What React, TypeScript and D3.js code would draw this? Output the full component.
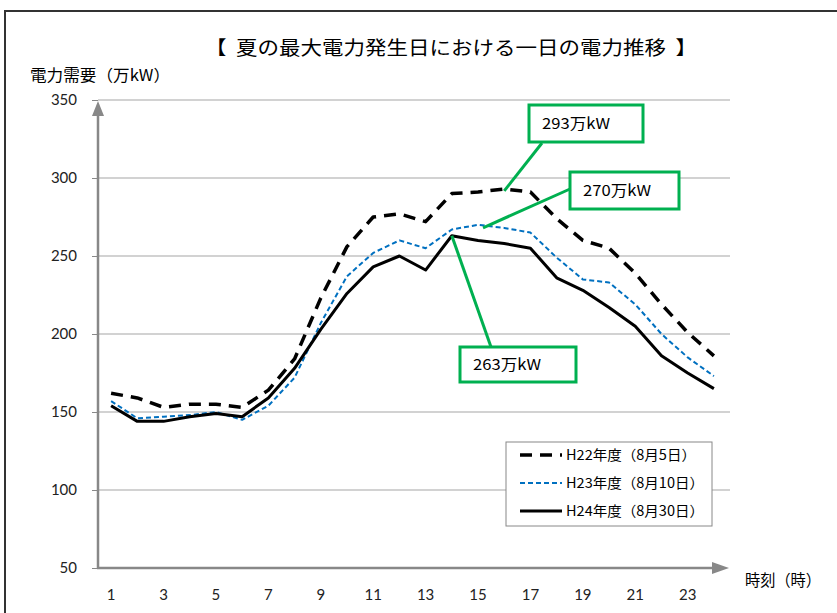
import React, { useEffect, useRef } from 'react';
import * as d3 from 'd3';

// hours 1..24
const hours = d3.range(1, 25);
const yTicks = [50, 100, 150, 200, 250, 300, 350];
const xTickLabels = [1, 3, 5, 7, 9, 11, 13, 15, 17, 19, 21, 23];

const h22 = [162, 159, 153, 155, 155, 153, 164, 184, 223, 256, 275, 277, 272, 290, 291, 293, 291, 274, 260, 255, 239, 219, 201, 186];
const h23 = [157, 146, 147, 148, 150, 145, 154, 172, 207, 237, 252, 260, 255, 267, 270, 268, 265, 249, 235, 233, 219, 200, 185, 173];
const h24 = [154, 144, 144, 147, 149, 147, 159, 178, 203, 226, 243, 250, 241, 263, 260, 258, 255, 236, 228, 217, 205, 186, 175, 165];

const seriesNames = ['H22年度（8月5日）', 'H23年度（8月10日）', 'H24年度（8月30日）'];

const FONT = "'Noto Sans CJK JP', 'Noto Sans', sans-serif";
const NUM_FONT = "Lato, 'Open Sans', sans-serif";
const GREEN = '#00B050';

const App: React.FC = () => {
  const svgRef = useRef<SVGSVGElement>(null);

  useEffect(() => {
    if (!svgRef.current) return;
    const svg = d3.select(svgRef.current);
    svg.selectAll('*').remove();

    const width = 837;
    const height = 613;
    const plot = { left: 98, right: 727, top: 100, bottom: 568 };

    const x = d3.scaleBand<number>().domain(hours).range([plot.left, plot.right]);
    const xc = (h: number) => (x(h) ?? 0) + x.bandwidth() / 2;
    const y = d3.scaleLinear().domain([50, 350]).range([plot.bottom, plot.top]);

    svg.attr('width', width).attr('height', height);

    // outer frame
    svg.append('rect')
      .attr('x', 5).attr('y', 11).attr('width', 900).attr('height', 700)
      .attr('fill', 'white').attr('stroke', '#333').attr('stroke-width', 2);

    // title
    svg.append('text')
      .attr('x', 205).attr('y', 55)
      .attr('font-family', FONT).attr('font-size', 19).attr('font-weight', 400)
      .attr('textLength', 492).attr('lengthAdjust', 'spacingAndGlyphs')
      .text('【\u00a0\u00a0夏の最大電力発生日における一日の電力推移\u00a0\u00a0】');

    svg.append('text')
      .attr('x', 30).attr('y', 81)
      .attr('font-family', FONT).attr('font-size', 16)
      .attr('textLength', 140).attr('lengthAdjust', 'spacingAndGlyphs')
      .text('電力需要（万kW）');

    // gridlines
    svg.append('g')
      .selectAll('line')
      .data(yTicks.filter(t => t > 50))
      .enter()
      .append('line')
      .attr('x1', plot.left).attr('x2', 730)
      .attr('y1', d => y(d)).attr('y2', d => y(d))
      .attr('stroke', '#A6A6A6').attr('stroke-width', 1.2);

    // y axis ticks + labels
    const yAxis = svg.append('g').attr('transform', `translate(${plot.left},0)`)
      .call(d3.axisLeft(y).tickValues(yTicks).tickSize(6).tickPadding(15));
    yAxis.select('.domain').remove();
    yAxis.selectAll('line').attr('stroke', '#888');
    yAxis.selectAll('text').attr('font-family', NUM_FONT).attr('font-size', 15).attr('fill', '#222');

    // x labels
    svg.append('g')
      .selectAll('text')
      .data(xTickLabels)
      .enter()
      .append('text')
      .attr('x', d => xc(d)).attr('y', 600).attr('text-anchor', 'middle')
      .attr('font-family', NUM_FONT).attr('font-size', 15).attr('fill', '#222')
      .text(d => d);

    // axes with arrows
    svg.append('line')
      .attr('x1', plot.left).attr('x2', plot.left).attr('y1', plot.bottom + 1).attr('y2', 112)
      .attr('stroke', '#888').attr('stroke-width', 2.5);
    svg.append('path')
      .attr('d', `M${plot.left},101 L${plot.left - 6},116 L${plot.left + 6},116 Z`)
      .attr('fill', '#888');
    svg.append('line')
      .attr('x1', plot.left - 1).attr('x2', 716).attr('y1', plot.bottom).attr('y2', plot.bottom)
      .attr('stroke', '#888').attr('stroke-width', 2.5);
    svg.append('path')
      .attr('d', `M729,${plot.bottom} L712,${plot.bottom - 6} L712,${plot.bottom + 6} Z`)
      .attr('fill', '#888');

    svg.append('text')
      .attr('x', 745).attr('y', 586)
      .attr('font-family', FONT).attr('font-size', 16)
      .attr('textLength', 76).attr('lengthAdjust', 'spacingAndGlyphs')
      .text('時刻（時）');

    // lines
    const line = d3.line<number>().x((_, i) => xc(hours[i])).y(d => y(d));
    const styles = [
      { data: h22, color: '#000', w: 3.5, dash: '12,8' },
      { data: h23, color: '#0070C0', w: 2, dash: '5,3' },
      { data: h24, color: '#000', w: 3, dash: null as string | null },
    ];
    styles.forEach(s => {
      svg.append('path')
        .attr('d', line(s.data) ?? '')
        .attr('fill', 'none')
        .attr('stroke', s.color)
        .attr('stroke-width', s.w)
        .attr('stroke-dasharray', s.dash)
        .attr('stroke-linejoin', 'round');
    });

    // annotations
    const notes = [
      { text: '293万kW', box: [529, 105, 114, 37], from: [542, 143], to: [xc(16), y(293) + 2] },
      { text: '270万kW', box: [570, 172, 109, 37], from: [570, 189], to: [xc(15) + 5, y(270) + 3] },
      { text: '263万kW', box: [460, 347, 116, 35], from: [491, 347], to: [xc(14), y(263)] },
    ];
    notes.forEach(n => {
      svg.append('line')
        .attr('x1', n.from[0]).attr('y1', n.from[1]).attr('x2', n.to[0]).attr('y2', n.to[1])
        .attr('stroke', GREEN).attr('stroke-width', 3);
      svg.append('rect')
        .attr('x', n.box[0]).attr('y', n.box[1]).attr('width', n.box[2]).attr('height', n.box[3])
        .attr('fill', 'white').attr('stroke', GREEN).attr('stroke-width', 3);
      svg.append('text')
        .attr('x', n.box[0] + 13).attr('y', n.box[1] + n.box[3] / 2 + 5)
        .attr('font-family', FONT).attr('font-size', 15)
        .attr('textLength', 68).attr('lengthAdjust', 'spacingAndGlyphs')
        .text(n.text);
    });

    // legend
    const lg = svg.append('g');
    lg.append('rect')
      .attr('x', 506).attr('y', 442).attr('width', 206).attr('height', 84)
      .attr('fill', 'white').attr('stroke', '#888').attr('stroke-width', 1);
    styles.forEach((s, i) => {
      const ly = 455 + i * 28;
      lg.append('line')
        .attr('x1', 520).attr('x2', 562).attr('y1', ly).attr('y2', ly)
        .attr('stroke', s.color).attr('stroke-width', s.w)
        .attr('stroke-dasharray', s.dash);
      lg.append('text')
        .attr('x', 566).attr('y', ly + 5)
        .attr('font-family', FONT).attr('font-size', 14)
        .attr('textLength', i === 0 ? 130 : 138).attr('lengthAdjust', 'spacingAndGlyphs')
        .text(seriesNames[i]);
    });
  }, []);

  return <svg ref={svgRef} style={{ position: 'absolute', left: 0, top: 0 }}></svg>;
};

export default App;
